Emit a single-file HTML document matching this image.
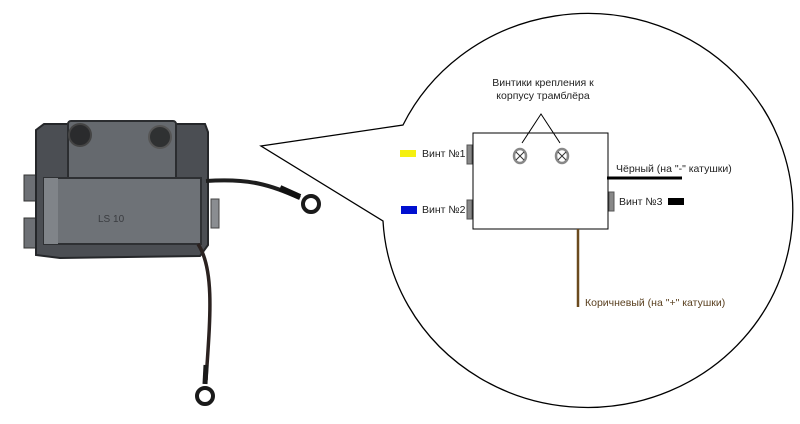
<!DOCTYPE html>
<html><head><meta charset="utf-8"><style>
html,body{margin:0;padding:0;background:#fff;width:800px;height:424px;overflow:hidden}
svg{display:block}
text{font-family:"Liberation Sans","DejaVu Sans",sans-serif;font-size:10.5px;fill:#222}
</style></head><body>
<svg width="800" height="424" viewBox="0 0 800 424" xmlns="http://www.w3.org/2000/svg">
<!-- device photo -->
<rect x="24" y="175" width="12" height="26" fill="#6d7075" stroke="#333" stroke-width="1"/>
<rect x="24" y="218" width="12" height="30" fill="#6d7075" stroke="#333" stroke-width="1"/>
<rect x="211" y="199" width="8" height="29" fill="#8a8d91" stroke="#444" stroke-width="1"/>
<path d="M36 130 L44 124 L205 124 L208 132 L208 245 L200 256 L60 258 L36 255 Z" fill="#4b4e53" stroke="#25272a" stroke-width="2"/>
<rect x="68" y="121" width="108" height="60" rx="3" fill="#65696e" stroke="#2b2d30" stroke-width="2"/>
<rect x="44" y="178" width="157" height="66" fill="#6e7277" stroke="#2e3033" stroke-width="2"/>
<rect x="44" y="178" width="14" height="66" fill="#808489"/>
<circle cx="80" cy="135" r="11" fill="#2a2b2d" stroke="#444" stroke-width="2"/>
<circle cx="160" cy="137" r="11" fill="#2f3132" stroke="#555" stroke-width="2"/>
<text x="98" y="222" style="font-size:10px;fill:#3a3c40">LS 10</text>
<!-- wires -->
<path d="M206 181 C250 178 270 185 300 198" fill="none" stroke="#1e1e1e" stroke-width="4"/>
<path d="M280 188 L300 197" stroke="#111" stroke-width="6"/>
<circle cx="311" cy="204" r="8" fill="none" stroke="#1a1a1a" stroke-width="4"/>
<path d="M198 244 C215 270 210 320 206 380" fill="none" stroke="#2b2220" stroke-width="3.5"/>
<path d="M206 365 L205 384" stroke="#1a1a1a" stroke-width="5"/>
<circle cx="205" cy="396" r="8" fill="none" stroke="#1a1a1a" stroke-width="4"/>
<!-- bubble -->
<path d="M403 125 A205 197 0 1 1 383 221 L261 146 Z" fill="#fff" stroke="#000" stroke-width="1.3"/>
<!-- schematic -->
<rect x="473" y="133" width="135" height="96" fill="#fff" stroke="#000" stroke-width="1"/>
<rect x="467" y="145" width="5" height="19" fill="#888" stroke="#555" stroke-width="1"/>
<rect x="467" y="200" width="5" height="19" fill="#888" stroke="#555" stroke-width="1"/>
<rect x="609" y="192" width="5" height="19" fill="#888" stroke="#555" stroke-width="1"/>
<g stroke="#888" stroke-width="2.5" fill="#fff"><ellipse cx="520" cy="156" rx="6" ry="7"/><ellipse cx="562" cy="156" rx="6" ry="7"/></g>
<g stroke="#333" stroke-width="1"><path d="M516 152 L524 160 M524 152 L516 160"/><path d="M558 152 L566 160 M566 152 L558 160"/></g>
<path d="M522 143 L541 114 L560 143" fill="none" stroke="#000" stroke-width="1"/>
<text x="543" y="86" text-anchor="middle">Винтики крепления к</text>
<text x="543" y="99" text-anchor="middle">корпусу трамблёра</text>
<rect x="400" y="150" width="16" height="7" fill="#f5f010"/>
<text x="422" y="157">Винт №1</text>
<rect x="401" y="206" width="16" height="8" fill="#0010d0"/>
<text x="422" y="213">Винт №2</text>
<text x="616" y="172">Чёрный (на "-" катушки)</text>
<line x1="607" y1="178" x2="682" y2="178" stroke="#000" stroke-width="3"/>
<text x="619" y="205">Винт №3</text>
<rect x="668" y="198" width="16" height="7" fill="#000"/>
<line x1="578" y1="229" x2="578" y2="307" stroke="#6b4a1e" stroke-width="2.5"/>
<text x="585" y="306" style="fill:#5a4020">Коричневый (на "+" катушки)</text>
</svg>
</body></html>
